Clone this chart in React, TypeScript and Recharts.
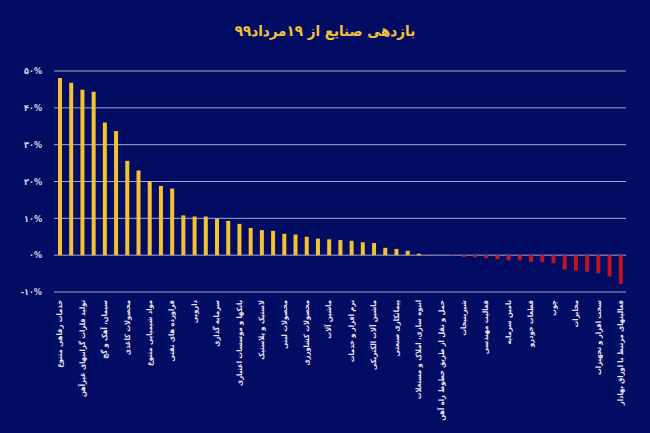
import { BarChart, Bar, Cell, XAxis, YAxis, CartesianGrid } from "recharts";

const BG = "#030c63";
const UP = "#f5c232";
const DOWN = "#c0141f";
const FONT = "'DejaVu Sans Condensed', 'DejaVu Sans', sans-serif";

// industries, left to right; only every other name is printed under the axis
const industries = [
  "خدمات رفاهی متنوع", "فلزات اساسی", "تولید فلزات گرانبهای غیرآهن", "استخراج کانه های فلزی",
  "سیمان، آهک و گچ", "کاشی و سرامیک", "محصولات کاغذی", "منسوجات",
  "مواد شیمیایی متنوع", "قند و شکر", "فراورده های نفتی", "رایانه",
  "دارویی", "غذایی بجز قند", "سرمایه گذاری", "سایر محصولات کانی غیرفلزی",
  "بانکها و موسسات اعتباری", "استخراج زغال سنگ", "لاستیک و پلاستیک", "خودرو",
  "محصولات لبنی", "چند رشته ای صنعتی", "محصولات کشاورزی", "محصولات فلزی",
  "ماشین آلات", "عرضه برق، گاز، بخار", "نرم افزار و خدمات", "دباغی",
  "ماشین آلات الکتریکی", "هتل و رستوران", "پیمانکاری صنعتی", "حمل و نقل آبی",
  "انبوه سازی، املاک و مستغلات", "اطلاعات و ارتباطات", "حمل و نقل از طریق خطوط راه آهن", "بیمه و صندوق بازنشستگی",
  "شیرینیجات", "اداره بازارهای مالی", "فعالیت مهندسی", "استخراج نفت",
  "تامین سرمایه", "زراعت", "قطعات خودرو", "حمل و نقل انبارداری",
  "چوب", "انتشار و چاپ", "مخابرات", "لیزینگ",
  "سخت افزار و تجهیزات", "ساخت دستگاه ها", "فعالیتهای مرتبط با اوراق بهادار",
];

// return since 19 Mordad 99, percent
const returns = [
  48.1, 46.8, 44.9, 44.4, 36.0, 33.7, 25.6, 23.0, 20.1, 18.8,
  18.1, 10.8, 10.5, 10.5, 9.9, 9.3, 8.5, 7.4, 6.8, 6.6,
  5.8, 5.6, 5.0, 4.5, 4.3, 4.1, 3.9, 3.5, 3.3, 2.0,
  1.7, 1.2, 0.4, 0.05, -0.05, -0.1, -0.5, -0.6, -0.8, -1.1,
  -1.4, -1.4, -1.8, -1.9, -2.2, -3.9, -4.2, -4.5, -4.9, -5.8,
  -7.8,
];

const yTicks = [-10, 0, 10, 20, 30, 40, 50];

const data = industries.map((name, i) => ({ name, value: returns[i] }));

const toFa = (s: string) => s.replace(/\d/g, (d) => "۰۱۲۳۴۵۶۷۸۹"[+d]);

function CatTick({ x, y, payload }: any) {
  return (
    <text
      x={x}
      y={y}
      dy="0.35em"
      transform={`rotate(-90 ${x} ${y})`}
      textAnchor="end"
      fill="#e6e6f2"
      fontSize={7.5}
      fontWeight="bold"
      fontFamily={FONT}
    >
      {payload.value}
    </text>
  );
}

export default function App() {
  return (
    <div style={{ position: "fixed", left: 0, top: 0, width: 650, height: 433, background: BG }}>
      <div
        style={{
          position: "absolute",
          top: 22,
          width: 650,
          textAlign: "center",
          color: "#f2c23c",
          fontSize: 15,
          fontWeight: "bold",
          fontFamily: FONT,
          direction: "rtl",
        }}
      >
        بازدهی صنایع از ۱۹مرداد۹۹
      </div>
      <BarChart width={650} height={433} data={data} margin={{ top: 71, right: 24, bottom: 0, left: 0 }} barCategoryGap={0}>
        <CartesianGrid vertical={false} stroke="#a3a7d6" strokeWidth={1} />
        <XAxis
          dataKey="name"
          interval={1}
          axisLine={false}
          tickLine={false}
          height={141}
          tick={<CatTick />}
        />
        <YAxis
          domain={[-10, 50]}
          ticks={yTicks}
          width={54}
          axisLine={false}
          tickLine={false}
          tickMargin={6}
          tickFormatter={(v: number) => toFa(String(v)) + "%"}
          tick={{ fill: "#d8d8e8", fontSize: 9, fontWeight: "bold", fontFamily: FONT }}
        />
        <Bar dataKey="value" barSize={4} isAnimationActive={false}>
          {data.map((d, i) => (
            <Cell key={i} fill={d.value >= 0 ? UP : DOWN} />
          ))}
        </Bar>
      </BarChart>
    </div>
  );
}
